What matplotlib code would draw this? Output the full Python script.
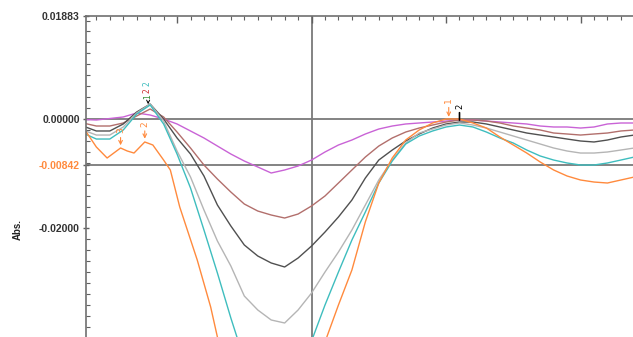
import matplotlib.pyplot as plt
from matplotlib.ticker import MultipleLocator, FixedLocator
import numpy as np

# wavelength grid (nm) shared by most traces
wl = np.arange(233, 275)

# absorbance traces in mAbs
magenta = [-0.09, -0.18, 0.09, 0.37, 1.10, 0.73, 0.00, -0.91, -2.19, -3.47,
           -4.94, -6.40, -7.68, -8.77, -9.87, -9.32, -8.59, -7.50, -6.03, -4.75,
           -3.84, -2.74, -1.83, -1.28, -0.91, -0.73, -0.55, -0.37, -0.18, -0.18,
           -0.37, -0.55, -0.73, -0.91, -1.28, -1.46, -1.46, -1.65, -1.46, -0.91,
           -0.73, -0.73]
brown = [-0.73, -1.28, -1.28, -0.73, 0.55, 1.83, 0.37, -2.38, -5.30, -8.41,
         -10.97, -13.35, -15.54, -16.82, -17.55, -18.10, -17.37, -15.90, -14.07, -11.70,
         -9.32, -6.95, -4.94, -3.47, -2.38, -1.65, -1.10, -0.55, -0.18, -0.18,
         -0.37, -0.73, -1.28, -1.65, -2.01, -2.56, -2.74, -2.93, -2.74, -2.56,
         -2.19, -2.01]
darkgray = [-1.28, -2.19, -2.19, -0.91, 1.28, 2.74, 0.00, -3.47, -6.40, -10.42,
            -15.72, -19.56, -23.03, -25.04, -26.32, -27.05, -25.41, -23.22, -20.66, -17.91,
            -14.81, -10.79, -7.50, -5.67, -4.02, -2.74, -1.65, -0.91, -0.55, -0.55,
            -0.91, -1.46, -2.01, -2.56, -2.93, -3.29, -3.66, -4.02, -4.20, -3.84,
            -3.29, -2.93]
lightgray = [-2.01, -2.93, -2.93, -1.46, 1.10, 2.74, -0.37, -5.85, -10.60, -16.63,
             -22.30, -26.87, -32.36, -34.91, -36.74, -37.29, -34.91, -31.81, -27.97, -24.31,
             -20.29, -15.72, -11.15, -7.50, -4.39, -2.56, -1.83, -1.10, -0.73, -1.10,
             -1.65, -2.38, -3.11, -3.84, -4.57, -5.30, -5.85, -6.22, -6.22, -6.03,
             -5.67, -5.30]
cyan = [-2.56, -3.66, -3.66, -2.01, 0.91, 2.56, -0.91, -6.40, -12.61, -20.29,
        -28.15, -36.38, -44.05, -49.17, -52.28, -52.83, -47.35, -40.58, -34.00, -27.97,
        -22.12, -17.00, -11.70, -7.68, -4.57, -3.11, -2.19, -1.46, -1.10, -1.46,
        -2.38, -3.47, -4.39, -5.67, -6.76, -7.50, -8.04, -8.41, -8.41, -8.04,
        -7.50, -6.95]

# orange trace has more structure on the left, so it has its own grid
wl_orange = [233.2, 234.0, 234.8, 235.4, 235.8, 236.3, 236.8, 237.6, 238.2, 239.0,
             239.5, 240.2, 241.5, 242.5, 243.0, 244, 245, 246, 247, 248,
             249, 250, 251, 252, 253, 254, 255, 256, 257, 258,
             259, 260, 261, 262, 263, 264, 265, 266, 267, 268,
             269, 270, 271, 272, 273, 274]
orange = [-2.19, -5.12, -7.13, -6.03, -5.30, -5.85, -6.22, -4.20, -4.75, -7.50,
          -9.32, -16.09, -25.77, -34.37, -39.85, -48.62, -57.22, -64.16, -67.82, -67.00,
          -59.80, -49.50, -40.76, -34.00, -27.60, -18.80, -11.70, -7.13, -3.84, -2.01,
          -0.73, 0.00, 0.00, -0.73, -1.65, -3.29, -4.75, -6.22, -7.86, -9.32,
          -10.42, -11.15, -11.52, -11.70, -11.15, -10.60]

c_mag = '#C963D6'
c_brown = '#B26F6C'
c_dark = '#505050'
c_light = '#B5B5B5'
c_cyan = '#3EBDBE'
c_orange = '#FF8A3D'

fig = plt.figure(figsize=(6.33, 3.37), dpi=100)
ax = fig.add_axes([86 / 633, 0.0, 1 - 86 / 633, 1 - 16 / 337])

ax.axhline(0, color='#7a7a7a', lw=1.3, zorder=1)
ax.axhline(-0.00842, color='#7a7a7a', lw=1.3, zorder=1)
ax.axvline(250, color='#7a7a7a', lw=1.3, zorder=1)

ax.plot(wl, np.array(magenta) / 1000, color=c_mag, lw=1.0)
ax.plot(wl, np.array(brown) / 1000, color=c_brown, lw=1.0)
ax.plot(wl, np.array(darkgray) / 1000, color=c_dark, lw=1.0)
ax.plot(wl, np.array(lightgray) / 1000, color=c_light, lw=1.0)
ax.plot(wl, np.array(cyan) / 1000, color=c_cyan, lw=1.0)
ax.plot(wl_orange, np.array(orange) / 1000, color=c_orange, lw=1.0)

ax.set_xlim(233.23, 273.9)
ax.set_ylim(-0.03985, 0.01883)

# peak markers
arr = dict(arrowstyle='->', lw=0.8, shrinkA=1, shrinkB=0)
ax.annotate('3', xy=(235.8, -0.0048), xytext=(235.8, -0.0021), rotation=90,
            ha='center', va='center', color=c_orange, fontsize=6.5,
            arrowprops=dict(arr, color=c_orange))
ax.annotate('2', xy=(237.6, -0.0036), xytext=(237.6, -0.0009), rotation=90,
            ha='center', va='center', color=c_orange, fontsize=6.5,
            arrowprops=dict(arr, color=c_orange))
ax.annotate('1', xy=(260.2, 0.0004), xytext=(260.2, 0.0034), rotation=90,
            ha='center', va='center', color=c_orange, fontsize=6.5,
            arrowprops=dict(arr, color=c_orange))
ax.annotate('2', xy=(261.0, -0.0002), xytext=(261.0, 0.0024), rotation=90,
            ha='center', va='center', color='black', fontsize=6,
            arrowprops=dict(arrowstyle='-', color='black', lw=1.2, shrinkA=1, shrinkB=0))
ax.text(237.75, 0.0065, '2', rotation=90, ha='center', va='center', color=c_cyan, fontsize=5.5)
ax.text(237.8, 0.0052, '2', rotation=90, ha='center', va='center', color='#cc3333', fontsize=5.5)
ax.annotate('1', xy=(237.85, 0.0027), xytext=(237.85, 0.0041), rotation=90,
            ha='center', va='center', color='#2e8b2e', fontsize=5.5,
            arrowprops=dict(arrowstyle='->', color='black', lw=0.7, shrinkA=0, shrinkB=0))

# axes styling
for s in ['bottom', 'right']:
    ax.spines[s].set_visible(False)
for s in ['left', 'top']:
    ax.spines[s].set_color('#707070')
    ax.spines[s].set_linewidth(1.2)

ax.xaxis.set_ticks_position('top')
ax.xaxis.set_major_locator(MultipleLocator(10))
ax.xaxis.set_minor_locator(MultipleLocator(1))
ax.tick_params(axis='x', which='both', direction='in', labeltop=False, labelbottom=False,
               color='#606060')
ax.tick_params(axis='x', which='major', length=5, width=1.0)
ax.tick_params(axis='x', which='minor', length=3, width=0.8)

ax.yaxis.set_major_locator(FixedLocator([0.01883, 0.0, -0.00842, -0.02]))
ax.yaxis.set_minor_locator(MultipleLocator(0.002))
ax.set_yticklabels(['0.01883', '0.00000', '-0.00842', '-0.02000'])
ax.tick_params(axis='y', which='major', direction='inout', length=5, width=1.0,
               color='#606060', pad=2, labelsize=7.5, labelcolor='#333333')
ax.tick_params(axis='y', which='minor', direction='in', length=3, width=0.8, color='#606060')
for lab in ax.get_yticklabels():
    lab.set_fontweight('bold')
    lab.set_fontfamily('Liberation Sans')
ax.get_yticklabels()[2].set_color(c_orange)

fig.text(18 / 633, 1 - 230 / 337, 'Abs.', rotation=90, ha='center', va='center',
         fontsize=7, fontweight='bold', family='Liberation Sans', color='#222222')

fig.savefig('out.png', dpi=100)
